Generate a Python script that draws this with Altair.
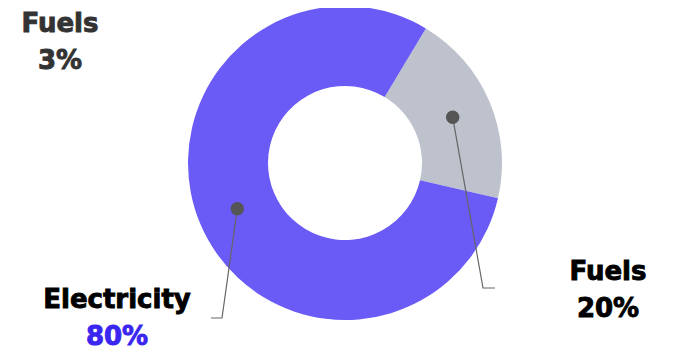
import math
import altair as alt
import pandas as pd

# ---- data ----
categories = ["Fuels", "Electricity"]
shares = [20, 80]
colors = ["#BDC2CD", "#6A5AF6"]
label_names = ["Fuels", "Electricity", "Fuels"]
label_values = ["20%", "80%", "3%"]
label_colors = ["#000000", "#3A26F0", "#333333"]
name_colors = ["#000000", "#000000", "#333333"]

PAD_TOP = 6
W, H = 658, 348 - PAD_TOP
CX, CY = 337, 155 - PAD_TOP   # donut centre in view pixels
R_IN, R_OUT = 77, 157
START_DEG = 31                # rotation of first slice

slices = pd.DataFrame({"cat": categories, "val": shares, "order": [0, 1]})
total = sum(shares)

# slice centroids for the dots
dots = []
acc = 0
for c, v in zip(categories, shares):
    mid = math.radians(START_DEG + (acc + v / 2) / total * 360)
    r = (R_IN + R_OUT) / 2
    dots.append({"cat": c, "x": r * math.sin(mid), "y": r * math.cos(mid)})
    acc += v
dots = pd.DataFrame(dots)

# leader lines (relative to centre, y up)
leaders = pd.DataFrame([
    {"g": "Fuels", "o": 0, "x": dots.x[0], "y": dots.y[0]},
    {"g": "Fuels", "o": 1, "x": 138, "y": -125},
    {"g": "Fuels", "o": 2, "x": 150, "y": -125},
    {"g": "Electricity", "o": 0, "x": dots.x[1], "y": dots.y[1]},
    {"g": "Electricity", "o": 1, "x": -123, "y": -155},
    {"g": "Electricity", "o": 2, "x": -134, "y": -155},
])

label_pos = [(263, -109), (-228, -137), (-285, 139)]
texts = []
for (lx, ly), n, v, nc, col in zip(label_pos, label_names, label_values, name_colors, label_colors):
    texts.append({"t": n, "x": lx, "y": ly, "c": nc})
    texts.append({"t": v, "x": lx, "y": ly - 37, "c": col})
texts = pd.DataFrame(texts)

xs = alt.Scale(domain=[-CX, W - CX], range=[0, W])
ys = alt.Scale(domain=[CY - H, CY], range=[H, 0])

arcs = alt.Chart(slices).mark_arc(innerRadius=R_IN, outerRadius=R_OUT, stroke=None).encode(
    theta=alt.Theta("val:Q", stack=True,
                    scale=alt.Scale(range=[math.radians(START_DEG), math.radians(START_DEG) + 2 * math.pi])),
    order=alt.Order("order:Q"),
    color=alt.Color("cat:N", scale=alt.Scale(domain=categories, range=colors), legend=None),
    x=alt.value(CX), y=alt.value(CY),
)

lines = alt.Chart(leaders).mark_line(color="#666666", strokeWidth=1.2).encode(
    x=alt.X("x:Q", scale=xs, axis=None),
    y=alt.Y("y:Q", scale=ys, axis=None),
    detail="g:N",
    order="o:Q",
)

pts = alt.Chart(dots).mark_circle(size=180, color="#555555", opacity=1).encode(
    x=alt.X("x:Q", scale=xs, axis=None),
    y=alt.Y("y:Q", scale=ys, axis=None),
)

txt = alt.Chart(texts).mark_text(
    font="DejaVu Sans", fontWeight="bold", fontSize=26, baseline="middle", align="center",
    strokeWidth=0.9, clip=False,
).encode(
    x=alt.X("x:Q", scale=xs, axis=None),
    y=alt.Y("y:Q", scale=ys, axis=None),
    text="t:N",
    color=alt.Color("c:N", scale=None),
    stroke=alt.Stroke("c:N", scale=None),
)

chart = alt.layer(arcs, lines, pts, txt).properties(
    width=W, height=H,
    padding={"top": PAD_TOP, "left": 0, "right": 0, "bottom": 0},
    autosize=alt.AutoSizeParams(type="none"),
).configure_view(stroke=None)

chart.save("out.html", embed_options={"renderer": "svg", "actions": False})
